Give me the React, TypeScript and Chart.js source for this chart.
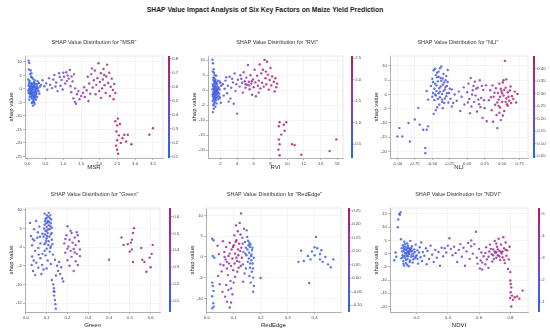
import React, { useEffect, useRef } from "react";
import { Chart, registerables } from "chart.js";

Chart.register(...registerables);
Chart.defaults.font.family = "'Liberation Sans', Arial, sans-serif";

type Pt = [number, number, number]; // [feature value, shap value, interaction (colour) value]

const MAIN_TITLE = "SHAP Value Impact Analysis of Six Key Factors on Maize Yield Prediction";

// ---------------- MSR ----------------
const msrPoints: Pt[] = [
  [0.03,10.5,0.15],[0.05,9.6,0.15],[0.04,7.2,0.14],[0.09,6.8,0.16],[0.07,5.5,0.15],[0.12,4.2,0.17],[0.02,3.5,0.13],[0.15,3.8,0.18],[0.05,2.6,0.14],[0.1,2.1,0.16],
  [0.18,2.5,0.18],[0.22,1.8,0.2],[0.03,1.2,0.13],[0.08,1.0,0.15],[0.13,0.8,0.17],[0.17,1.3,0.18],[0.21,0.6,0.2],[0.26,1.1,0.21],[0.3,0.4,0.22],[0.05,0.2,0.14],
  [0.1,-0.1,0.16],[0.14,0.3,0.17],[0.19,-0.2,0.19],[0.24,0.0,0.2],[0.28,-0.5,0.21],[0.02,-0.6,0.13],[0.07,-0.9,0.15],[0.12,-0.7,0.16],[0.16,-1.2,0.18],[0.21,-1.0,0.19],
  [0.25,-1.5,0.2],[0.09,-1.8,0.15],[0.13,-2.3,0.17],[0.18,-2.0,0.18],[0.22,-2.6,0.19],[0.06,-2.9,0.14],[0.11,-3.4,0.16],[0.15,-3.8,0.17],[0.2,-3.2,0.19],[0.17,-4.5,0.18],
  [0.12,-5.2,0.16],[0.2,-5.6,0.19],[0.15,-6.2,0.17],[0.23,-4.0,0.2],[0.27,-3.0,0.21],[0.33,-1.8,0.22],[0.35,0.9,0.23],[0.32,2.2,0.22],[0.38,1.5,0.24],[0.28,2.9,0.21],
  [0.04,1.8,0.14],[0.06,-0.3,0.14],[0.08,0.5,0.15],[0.11,1.5,0.16],[0.14,-0.4,0.17],[0.16,0.6,0.18],[0.19,1.0,0.19],[0.23,-0.8,0.2],[0.26,0.3,0.21],[0.09,-1.2,0.15],
  [0.12,-1.6,0.16],[0.17,-2.6,0.18],[0.2,-1.4,0.19],[0.24,-2.1,0.2],[0.03,-1.5,0.13],[0.07,-2.0,0.15],[0.1,-2.8,0.16],[0.14,-4.8,0.17],[0.18,-5.0,0.18],[0.13,1.9,0.17],
  [0.06,3.0,0.14],[0.1,4.6,0.16],[0.2,3.2,0.19],[0.27,1.9,0.21],[0.31,-0.9,0.22],[0.16,-3.0,0.18],[0.22,-3.6,0.19],[0.05,-4.0,0.14],[0.11,5.8,0.16],[0.19,2.0,0.19],
  [0.42,3.2,0.26],[0.47,1.0,0.27],[0.52,2.0,0.28],[0.55,-0.3,0.29],[0.6,4.0,0.3],[0.63,1.5,0.31],[0.68,0.3,0.32],[0.72,3.5,0.33],[0.75,5.2,0.34],[0.8,2.4,0.35],
  [0.84,-0.8,0.36],[0.88,5.8,0.37],[0.92,1.2,0.38],[0.95,3.3,0.39],[0.98,-0.2,0.4],[1.02,4.5,0.41],[1.05,2.0,0.42],[1.08,6.2,0.43],[1.12,5.0,0.44],[1.15,3.8,0.45],
  [1.18,7.0,0.46],[1.2,1.0,0.46],[1.23,4.6,0.47],[1.26,2.8,0.48],[1.3,5.5,0.49],[1.33,0.2,0.5],[0.9,4.4,0.38],[1.0,6.0,0.41],[1.1,3.0,0.44],[0.78,0.9,0.34],
  [1.22,-1.2,0.47],[1.28,-3.5,0.49],[1.32,-4.8,0.5],[1.38,-2.0,0.52],[1.42,-0.8,0.53],[1.45,-3.8,0.54],[1.5,-2.6,0.55],[1.55,-1.5,0.57],[1.6,-3.0,0.58],[1.65,-0.5,0.59],
  [1.7,-4.5,0.6],[1.35,-5.5,0.51],[1.75,-1.8,0.61],[1.58,0.6,0.58],
  [1.68,4.5,0.6],[1.72,2.0,0.61],[1.78,5.5,0.62],[1.82,0.5,0.63],[1.85,3.2,0.64],[1.88,6.8,0.65],[1.92,1.5,0.66],[1.95,4.0,0.67],[1.98,9.5,0.68],[2.0,-0.8,0.68],
  [2.02,2.6,0.69],[2.05,5.8,0.7],[2.08,0.2,0.7],[2.1,3.5,0.71],[2.12,7.4,0.72],[2.15,1.4,0.72],[2.18,-1.5,0.73],[2.2,4.6,0.74],[2.22,9.0,0.74],[2.25,2.2,0.75],
  [2.28,6.0,0.76],[2.3,-2.6,0.76],[2.32,0.8,0.77],[2.35,3.8,0.77],[2.38,-0.4,0.78],[2.4,-3.8,0.78],[2.42,1.8,0.79],[2.45,-1.5,0.79],[1.9,-2.0,0.65],[2.05,-3.3,0.69],
  [1.8,7.6,0.62],[2.14,5.2,0.72],
  [2.45,-12.0,0.79],[2.5,-13.5,0.8],[2.52,-11.0,0.8],[2.48,-15.8,0.79],[2.55,-17.2,0.8],[2.5,-19.0,0.8],[2.47,-21.0,0.79],[2.5,-22.5,0.8],[2.53,-24.0,0.8],[2.58,-13.0,0.8],
  [2.6,-20.0,0.8],[2.65,-18.3,0.8],[2.7,-17.0,0.8],[2.75,-19.5,0.8],[2.8,-17.0,0.8],[2.9,-20.5,0.8],[3.4,-17.0,0.8],[3.5,-14.6,0.8],
];
const msrXTicks = [0, 0.5, 1, 1.5, 2, 2.5, 3, 3.5];
const msrYTicks = [10, 5, 0, -5, -10, -15, -20, -25];
const msrCTicks = [0.1, 0.2, 0.3, 0.4, 0.5, 0.6, 0.7, 0.8];

// ---------------- RVI ----------------
const rviPoints: Pt[] = [
  [1.05,10.2,0.45],[1.1,9.0,0.45],[1.2,7.0,0.5],[1.08,6.2,0.45],[1.3,5.0,0.55],[1.15,4.2,0.5],[1.4,3.5,0.55],[1.25,2.8,0.5],[1.55,2.5,0.6],[1.1,2.0,0.45],
  [1.35,1.6,0.55],[1.65,1.2,0.6],[1.2,1.0,0.5],[1.45,0.6,0.55],[1.8,0.8,0.65],[1.05,0.3,0.45],[1.3,0.0,0.5],[1.6,-0.2,0.6],[1.9,0.2,0.7],[1.15,-0.6,0.5],
  [1.4,-0.9,0.55],[1.7,-0.7,0.65],[1.25,-1.4,0.5],[1.5,-1.7,0.6],[1.85,-1.2,0.7],[1.1,-2.0,0.45],[1.35,-2.4,0.55],[1.65,-2.2,0.6],[1.2,-3.0,0.5],[1.45,-3.4,0.55],
  [1.75,-3.0,0.65],[1.3,-4.0,0.5],[1.55,-4.4,0.6],[1.15,-5.0,0.5],[1.4,-5.5,0.55],[1.2,-6.2,0.5],[1.1,-7.3,0.45],[2.0,2.4,0.75],[2.1,1.5,0.8],[1.95,-2.5,0.75],
  [2.05,-4.2,0.8],[1.7,3.2,0.65],[1.5,4.8,0.6],[1.9,2.9,0.7],[1.6,1.9,0.6],[1.35,3.0,0.55],
  [1.12,1.4,0.45],[1.22,0.4,0.5],[1.32,-0.4,0.52],[1.42,1.1,0.55],[1.52,0.2,0.58],[1.62,-1.2,0.6],[1.72,0.5,0.65],[1.18,-1.1,0.48],[1.28,-2.0,0.5],[1.38,-1.4,0.54],
  [1.48,-2.6,0.57],[1.58,-0.6,0.6],[1.08,-3.6,0.45],[1.24,-4.6,0.5],[1.34,2.2,0.53],[1.44,2.6,0.56],[1.14,3.4,0.47],[1.26,4.0,0.5],[1.06,-1.4,0.45],[1.18,-2.6,0.48],
  [1.5,-0.4,0.58],[1.8,-2.0,0.68],[1.36,-3.2,0.54],[1.22,5.8,0.5],
  [2.3,2.0,0.85],[2.5,0.5,0.9],[2.6,3.2,0.95],[2.8,-1.0,1.0],[2.9,1.5,1.0],[3.1,4.5,1.1],[3.2,-2.8,1.1],[3.3,0.8,1.15],[3.5,2.6,1.2],[3.6,-4.5,1.25],
  [3.7,5.6,1.3],[3.8,-0.3,1.3],[3.9,2.0,1.35],[4.0,-7.8,1.35],[3.0,-3.8,1.05],[2.7,4.3,0.95],[3.4,3.8,1.2],[2.4,-1.8,0.85],
  [4.1,3.5,1.4],[4.3,1.2,1.45],[4.4,5.0,1.5],[4.6,2.5,1.55],[4.7,-0.8,1.6],[4.8,6.0,1.6],[4.9,3.0,1.65],[5.0,0.8,1.7],[5.1,4.2,1.7],[5.2,1.8,1.75],
  [5.3,8.4,1.8],[5.4,2.8,1.8],[5.5,0.3,1.85],[5.6,5.0,1.9],[5.7,2.2,1.9],[5.8,-1.5,1.95],[5.9,3.6,2.0],[6.0,1.0,2.0],[6.1,6.8,2.05],[6.2,2.6,2.1],
  [4.5,3.8,1.5],[5.0,2.0,1.7],[5.45,1.6,1.85],[5.75,3.0,1.9],[6.25,-2.0,2.1],
  [6.4,4.8,2.1],[6.5,1.5,2.15],[6.6,3.2,2.2],[6.7,8.6,2.2],[6.8,0.6,2.25],[6.9,5.6,2.25],[7.0,2.5,2.3],[7.1,6.8,2.3],[7.2,1.2,2.35],[7.3,10.1,2.35],
  [7.4,4.0,2.4],[7.5,2.0,2.4],[7.6,9.5,2.4],[7.7,5.2,2.45],[7.8,0.2,2.45],[7.9,3.4,2.45],[8.0,7.4,2.5],[8.1,1.6,2.5],[8.2,4.6,2.5],[8.4,2.8,2.5],
  [8.5,-0.4,2.5],[8.6,4.0,2.5],[8.7,1.0,2.5],[8.8,2.2,2.5],[6.6,-0.8,2.2],[7.45,6.2,2.4],
  [9.1,-10.7,2.5],[9.0,-12.0,2.5],[9.6,-11.5,2.5],[9.7,-13.5,2.5],[9.0,-16.4,2.5],[9.1,-18.0,2.5],[8.96,-19.8,2.5],[9.1,-21.7,2.5],[9.9,-10.7,2.5],[10.6,-18.0,2.5],
  [10.9,-18.3,2.5],[11.7,-21.5,2.5],[15.1,-20.3,2.5],[15.9,-16.4,2.5],[9.3,-14.8,2.5],
];
const rviXTicks = [2, 4, 6, 8, 10, 12, 14, 16];
const rviYTicks = [10, 5, 0, -5, -10, -15, -20];
const rviCTicks = [0.5, 1.0, 1.5, 2.0, 2.5];

// ---------------- NLI ----------------
const nliPoints: Pt[] = [
  [-0.52,3.0,0.1],[-0.5,5.5,0.1],[-0.49,0.5,0.1],[-0.48,8.5,0.11],[-0.47,-2.0,0.11],[-0.46,3.8,0.1],[-0.45,6.8,0.12],[-0.44,1.2,0.11],[-0.43,-4.5,0.12],[-0.42,4.6,0.12],
  [-0.41,8.0,0.12],[-0.4,2.2,0.13],[-0.39,-1.0,0.12],[-0.38,5.8,0.13],[-0.37,9.8,0.13],[-0.36,0.2,0.13],[-0.35,3.4,0.14],[-0.34,7.2,0.14],[-0.33,-3.0,0.14],[-0.32,1.8,0.15],
  [-0.31,5.0,0.15],[-0.3,-0.6,0.15],[-0.29,3.0,0.16],[-0.28,8.6,0.16],[-0.48,-6.8,0.11],[-0.45,-5.5,0.12],[-0.4,-3.5,0.13],[-0.36,-1.8,0.14],[-0.5,-0.8,0.1],[-0.43,6.0,0.12],
  [-0.38,2.8,0.13],[-0.33,4.2,0.14],[-0.41,0.4,0.12],[-0.46,9.0,0.11],[-0.3,6.5,0.15],[-0.35,-4.8,0.14],
  [-0.49,4.4,0.1],[-0.47,2.0,0.11],[-0.45,-0.4,0.12],[-0.44,3.2,0.11],[-0.42,-1.6,0.12],[-0.41,6.2,0.12],[-0.39,1.0,0.12],[-0.37,4.8,0.13],[-0.36,-2.6,0.14],[-0.34,1.2,0.14],
  [-0.32,-1.4,0.15],[-0.31,2.6,0.15],[-0.46,0.0,0.11],[-0.43,7.6,0.12],[-0.39,9.2,0.12],[-0.35,5.6,0.14],[-0.29,0.4,0.16],[-0.27,-2.8,0.17],[-0.28,4.4,0.16],[-0.25,2.0,0.18],
  [-0.26,0.5,0.18],[-0.24,-1.5,0.19],[-0.22,1.8,0.19],[-0.2,-3.0,0.2],[-0.18,0.0,0.2],[-0.15,-2.2,0.21],[-0.12,1.0,0.21],[-0.1,-5.8,0.22],[-0.08,-0.8,0.22],[-0.05,2.5,0.23],
  [-0.04,-3.5,0.23],[-0.22,-4.2,0.19],
  [0.0,0.8,0.24],[0.02,3.8,0.25],[0.03,-1.6,0.25],[0.05,5.8,0.25],[0.06,-4.2,0.26],[0.08,1.5,0.26],[0.1,-2.6,0.27],[0.11,4.5,0.27],[0.12,-0.4,0.27],[0.14,-6.0,0.28],
  [0.15,2.4,0.28],[0.17,-3.4,0.28],[0.18,5.0,0.29],[0.2,-1.2,0.29],[0.22,-8.2,0.3],[0.23,1.6,0.3],[0.25,-4.8,0.3],[0.27,3.2,0.31],[0.28,-9.4,0.31],[0.04,-6.6,0.25],
  [0.09,3.0,0.26],[0.16,-1.8,0.28],[0.01,-2.8,0.24],[0.07,0.0,0.26],[0.13,2.0,0.27],[0.19,-4.4,0.29],[0.24,-2.0,0.3],[0.21,3.0,0.3],
  [0.31,-2.0,0.32],[0.33,1.5,0.33],[0.35,-5.5,0.34],[0.36,3.2,0.34],[0.38,-0.8,0.35],[0.4,-3.6,0.36],[0.41,2.2,0.36],[0.42,-7.2,0.37],[0.44,0.5,0.37],[0.45,-1.8,0.38],
  [0.46,3.8,0.38],[0.47,-4.6,0.38],[0.48,-9.0,0.39],[0.49,1.2,0.39],[0.5,-2.6,0.4],[0.51,4.2,0.4],[0.52,-0.4,0.4],[0.53,-5.8,0.4],[0.54,11.8,0.41],[0.55,2.4,0.41],
  [0.56,-1.4,0.41],[0.57,-3.4,0.41],[0.58,0.8,0.42],[0.6,-2.2,0.42],[0.62,2.8,0.42],[0.64,-0.6,0.42],[0.66,-1.6,0.43],[0.68,1.0,0.43],[0.7,-2.8,0.43],[0.72,0.2,0.43],
  [0.43,-11.8,0.37],[0.37,-9.6,0.35],[0.46,-6.4,0.38],[0.52,5.0,0.4],[0.48,2.0,0.39],[0.58,-4.0,0.42],[0.56,5.3,0.41],
  [0.34,-1.0,0.33],[0.39,0.6,0.35],[0.43,-2.8,0.37],[0.47,-0.8,0.39],[0.5,0.4,0.4],[0.53,1.6,0.41],[0.55,-2.6,0.41],[0.59,-0.8,0.42],[0.61,1.4,0.42],[0.63,-3.0,0.42],
  [0.45,-4.0,0.38],[0.51,-7.4,0.4],
  [-1.0,-14.7,0.2],[-0.97,-11.8,0.2],[-0.93,-14.7,0.2],[-0.82,-16.5,0.21],[-0.84,-10.0,0.2],[-0.75,-8.8,0.21],[-0.7,-4.7,0.22],[-0.68,-10.6,0.21],[-0.63,-12.4,0.2],[-0.58,-12.4,0.21],
  [-0.56,-11.2,0.2],[-0.6,-18.8,0.22],[-0.6,-20.6,0.21],[-0.58,1.2,0.15],[-0.56,-1.8,0.15],
];
const nliXTicks = [-1, -0.75, -0.5, -0.25, 0, 0.25, 0.5, 0.75];
const nliYTicks = [10, 5, 0, -5, -10, -15, -20];
const nliCTicks = [0.05, 0.1, 0.15, 0.2, 0.25, 0.3, 0.35, 0.4];

// ---------------- Green ----------------
const greenPoints: Pt[] = [
  [0.02,6.5,0.12],[0.025,3.0,0.11],[0.03,0.5,0.12],[0.03,-2.5,0.12],[0.035,-6.4,0.12],[0.04,4.8,0.13],[0.04,1.8,0.12],[0.045,-1.0,0.13],[0.05,-4.2,0.13],[0.05,7.0,0.14],
  [0.055,2.5,0.13],[0.06,-0.2,0.14],[0.06,-5.5,0.14],[0.065,5.5,0.14],[0.07,-3.0,0.15],[0.07,1.0,0.14],[0.075,-7.2,0.15],[0.08,3.6,0.15],[0.08,-1.8,0.15],[0.085,-6.0,0.15],
  [0.045,-7.5,0.13],[0.028,-4.8,0.11],[0.033,2.2,0.12],[0.038,-3.6,0.12],[0.058,4.0,0.14],[0.062,-2.0,0.14],[0.068,2.8,0.14],[0.078,-4.8,0.15],
  [0.09,9.0,0.16],[0.1,8.6,0.17],[0.11,9.2,0.17],[0.095,7.6,0.16],[0.105,7.0,0.17],[0.115,7.8,0.18],[0.12,6.4,0.18],[0.09,6.0,0.16],[0.1,5.4,0.17],[0.11,5.9,0.17],
  [0.115,4.8,0.18],[0.095,4.4,0.16],[0.105,3.8,0.17],[0.12,3.4,0.18],[0.085,2.8,0.16],[0.1,2.4,0.17],[0.11,1.6,0.17],[0.125,2.0,0.19],[0.09,0.8,0.16],[0.1,-0.4,0.17],
  [0.115,-1.2,0.18],[0.12,0.2,0.18],[0.095,-2.2,0.16],[0.105,-3.6,0.17],[0.12,-4.5,0.18],[0.1,-5.7,0.17],[0.13,-2.0,0.19],[0.125,5.2,0.19],[0.105,6.6,0.17],[0.095,1.2,0.16],
  [0.092,7.0,0.16],[0.1,7.8,0.17],[0.108,8.2,0.17],[0.118,8.6,0.18],[0.098,6.4,0.16],[0.112,6.8,0.18],[0.122,7.4,0.18],[0.088,5.0,0.16],[0.1,4.4,0.17],[0.108,4.8,0.17],
  [0.118,5.6,0.18],[0.092,3.4,0.16],[0.102,3.0,0.17],[0.113,2.8,0.17],[0.124,3.8,0.19],[0.098,1.8,0.16],[0.108,0.6,0.17],[0.118,-0.2,0.18],[0.128,0.8,0.19],[0.09,-1.0,0.16],
  [0.132,-10.0,0.2],[0.135,-11.0,0.2],[0.138,-12.0,0.2],[0.136,-13.0,0.2],[0.14,-14.2,0.21],[0.142,-15.3,0.21],[0.144,-16.5,0.21],[0.134,-11.8,0.2],
  [0.14,-3.4,0.22],[0.15,-5.0,0.23],[0.155,-6.4,0.24],[0.16,-4.0,0.24],[0.165,-7.2,0.25],[0.17,-5.4,0.25],[0.175,-8.4,0.26],[0.145,-7.6,0.23],[0.125,-8.8,0.2],[0.18,-9.2,0.26],
  [0.185,1.0,0.3],[0.19,-1.5,0.31],[0.195,3.2,0.32],[0.2,5.6,0.33],[0.2,-3.5,0.33],[0.205,0.2,0.33],[0.21,2.0,0.34],[0.21,-5.0,0.34],[0.215,-1.0,0.35],[0.22,3.8,0.35],
  [0.22,-2.6,0.35],[0.225,1.2,0.36],[0.23,-0.5,0.36],[0.23,-6.4,0.36],[0.235,2.6,0.37],[0.24,-3.8,0.37],[0.24,0.6,0.37],[0.245,-1.8,0.38],[0.25,3.2,0.38],[0.25,-4.8,0.38],
  [0.255,1.6,0.39],[0.26,-2.4,0.39],[0.19,2.2,0.31],[0.215,4.4,0.35],[0.235,-1.4,0.37],[0.2,-0.4,0.33],[0.26,-0.6,0.39],[0.245,4.0,0.38],
  [0.4,-3.4,0.45],[0.46,2.6,0.5],[0.47,0.6,0.5],[0.49,0.8,0.52],[0.505,1.2,0.53],[0.51,-0.6,0.53],[0.51,2.0,0.54],[0.515,3.8,0.54],[0.52,5.1,0.55],[0.515,-4.0,0.54],
  [0.555,-0.2,0.56],[0.56,-3.4,0.57],[0.57,-4.0,0.57],[0.58,-6.6,0.58],[0.595,-2.8,0.59],[0.6,-5.4,0.59],[0.605,-1.8,0.6],[0.61,0.6,0.6],[0.5,-1.2,0.52],
];
const greenXTicks = [0, 0.1, 0.2, 0.3, 0.4, 0.5, 0.6];
const greenYTicks = [10, 5, 0, -5, -10, -15];
const greenCTicks = [0.1, 0.2, 0.3, 0.4, 0.5, 0.6];

// ---------------- RedEdge ----------------
const redEdgePoints: Pt[] = [
  [0.02,4.4,-0.05],[0.025,4.0,-0.06],[0.022,0.2,-0.08],[0.028,-0.2,-0.07],[0.02,-6.2,-0.1],[0.022,-7.0,-0.1],[0.025,-8.2,-0.09],[0.02,-9.5,-0.1],[0.024,-11.2,-0.1],[0.02,-12.4,-0.11],
  [0.026,-12.0,-0.1],
  [0.04,2.7,0.1],[0.045,0.7,0.08],[0.05,-1.8,0.12],[0.055,-3.5,0.06],[0.048,-6.6,0.04],[0.058,-8.4,0.05],[0.06,3.8,0.14],[0.042,-4.6,0.02],
  [0.065,1.2,0.12],[0.07,-0.6,0.15],[0.072,2.4,0.18],[0.075,-2.8,0.1],[0.078,-4.4,0.13],[0.08,0.2,0.2],[0.082,-1.6,0.16],[0.085,3.4,0.22],[0.088,-5.8,0.08],[0.09,-7.6,0.1],
  [0.092,1.8,0.2],[0.095,-0.4,0.17],[0.098,-3.2,0.14],[0.068,-9.6,0.06],[0.075,-10.8,0.04],[0.085,-12.2,0.08],[0.09,-11.0,0.06],[0.072,-6.8,0.12],[0.095,-9.0,0.05],[0.08,-8.0,-0.02],
  [0.1,-6.2,0.1],[0.062,-2.0,0.14],
  [0.1,2.8,0.24],[0.102,5.2,0.23],[0.105,0.8,0.22],[0.108,7.6,0.2],[0.11,4.0,0.25],[0.112,-1.0,0.2],[0.115,6.2,0.22],[0.116,1.8,0.25],[0.118,-2.6,0.18],[0.12,3.2,0.24],
  [0.105,-4.8,0.15],[0.113,-3.6,0.12],
  [0.122,8.2,0.16],[0.125,5.4,0.2],[0.127,10.5,0.12],[0.128,2.2,0.18],[0.13,-0.2,0.22],[0.132,4.6,0.1],[0.134,-1.8,0.14],[0.136,1.2,0.05],[0.138,6.8,0.08],[0.14,-4.0,0.02],
  [0.135,-6.0,0.08],[0.126,-2.2,0.2],
  [0.085,0.8,0.18],[0.09,-2.2,0.15],[0.097,2.4,0.2],[0.103,-1.6,0.18],[0.107,3.6,0.22],[0.11,-0.2,0.2],[0.117,0.4,0.18],[0.121,-1.2,0.16],[0.124,1.4,0.14],[0.133,3.2,0.12],
  [0.074,-1.2,0.12],[0.066,0.0,0.1],
  [0.142,3.6,-0.02],[0.145,2.2,-0.05],[0.147,0.4,-0.06],[0.15,4.8,-0.04],[0.152,-1.2,-0.07],[0.155,2.8,-0.08],[0.157,1.0,-0.08],[0.16,-2.6,-0.06],[0.162,3.0,-0.09],[0.164,0.2,-0.09],
  [0.165,-0.8,-0.08],[0.167,-3.6,-0.07],[0.168,1.6,-0.08],[0.17,-1.6,-0.09],[0.172,-5.0,-0.07],[0.174,-0.2,-0.08],[0.175,-7.0,-0.06],[0.172,-8.4,-0.07],[0.148,6.4,-0.03],[0.158,-4.6,-0.07],
  [0.163,-6.2,-0.08],[0.153,3.9,-0.1],[0.16,2.4,-0.11],[0.145,-2.8,-0.05],
  [0.143,0.8,-0.04],[0.151,1.8,-0.06],[0.156,-0.4,-0.07],[0.161,-1.6,-0.08],[0.166,0.6,-0.09],[0.169,2.2,-0.08],[0.171,-2.8,-0.09],[0.158,3.4,-0.1],
  [0.2,-5.1,-0.02],
  [0.34,-1.2,-0.08],[0.35,1.5,-0.09],[0.36,-1.0,-0.08],[0.375,0.2,-0.1],[0.38,-6.3,-0.08],[0.385,-0.6,-0.09],[0.39,1.3,-0.1],[0.4,2.3,-0.09],[0.4,0.4,-0.08],[0.405,4.8,-0.07],
  [0.41,2.1,-0.1],[0.42,0.7,-0.09],[0.42,-0.6,-0.08],[0.425,1.6,-0.09],[0.43,-1.2,-0.1],[0.44,0.0,-0.08],[0.45,-1.8,-0.09],[0.46,-2.5,-0.08],[0.47,-0.6,-0.09],
];
const redEdgeXTicks = [0, 0.1, 0.2, 0.3, 0.4];
const redEdgeYTicks = [10, 5, 0, -5, -10];
const redEdgeCTicks = [-0.1, -0.05, 0, 0.05, 0.1, 0.15, 0.2, 0.25];

// ---------------- NDVI ----------------
const ndviPoints: Pt[] = [
  [0.083,12.9,1.0],[0.089,15.0,1.0],[0.098,15.7,1.0],[0.094,14.7,1.0],[0.08,10.0,1.0],
  [0.057,-2.5,0.9],[0.066,0.4,0.9],[0.07,-1.2,0.9],
  [0.1,5.4,1.0],[0.105,2.0,1.05],[0.11,-0.6,1.05],[0.112,3.2,1.05],[0.115,-2.8,1.1],[0.118,1.0,1.1],[0.12,-4.5,1.1],[0.122,4.5,1.1],[0.125,0.2,1.15],[0.128,-1.6,1.15],
  [0.13,2.6,1.15],[0.132,-3.6,1.2],[0.135,1.4,1.2],[0.138,-0.8,1.2],[0.14,3.8,1.2],[0.142,-2.0,1.25],[0.145,0.6,1.25],[0.148,2.2,1.25],[0.15,-4.8,1.3],[0.152,-0.2,1.3],
  [0.155,1.8,1.3],[0.158,-2.6,1.3],[0.16,4.8,1.35],[0.163,0.8,1.35],[0.166,-1.2,1.35],[0.17,2.8,1.4],[0.175,-3.4,1.4],[0.18,0.0,1.45],[0.185,1.6,1.45],[0.19,-1.8,1.5],
  [0.195,3.4,1.5],[0.2,-0.6,1.5],[0.205,1.2,1.55],[0.21,-3.8,1.55],[0.215,0.4,1.6],[0.22,2.4,1.6],[0.225,-1.4,1.6],[0.23,4.2,1.65],[0.235,-2.8,1.65],[0.24,0.6,1.7],
  [0.25,-0.8,1.7],[0.26,2.0,1.75],[0.265,-4.0,1.75],[0.27,1.0,1.8],[0.28,-2.0,1.8],[0.29,3.0,1.85],[0.3,-0.4,1.9],[0.31,-3.2,1.9],[0.32,1.4,1.95],[0.33,-1.6,2.0],
  [0.34,0.6,2.0],[0.35,-4.6,2.05],[0.36,2.2,2.05],[0.12,1.8,1.1],[0.135,-0.2,1.2],[0.15,1.0,1.3],[0.165,2.0,1.35],[0.18,-1.0,1.45],[0.145,3.0,1.25],
  [0.108,0.8,1.05],[0.113,-1.4,1.05],[0.118,2.6,1.1],[0.123,-0.8,1.1],[0.127,1.6,1.15],[0.133,-2.4,1.2],[0.137,0.4,1.2],[0.141,2.0,1.2],[0.146,-1.0,1.25],[0.151,0.2,1.3],
  [0.156,-3.2,1.3],[0.161,1.4,1.35],[0.168,-0.4,1.4],[0.172,1.0,1.4],[0.178,-2.2,1.45],[0.188,0.6,1.45],[0.196,-1.2,1.5],[0.206,-2.0,1.55],[0.116,-3.8,1.1],[0.126,3.6,1.15],
  [0.102,-1.8,1.0],[0.14,-4.2,1.2],
  [0.37,-1.0,2.1],[0.38,2.0,2.15],[0.39,0.4,2.2],[0.4,3.0,2.2],[0.41,5.8,2.3],[0.42,1.8,2.3],[0.43,-0.6,2.4],[0.44,2.6,2.4],[0.45,0.2,2.5],[0.46,-3.2,2.5],
  [0.47,1.4,2.6],[0.48,3.6,2.6],[0.49,-1.2,2.7],[0.5,2.2,2.7],[0.51,-4.6,2.8],[0.52,0.8,2.8],[0.53,4.0,2.9],[0.54,-2.0,2.9],[0.55,2.8,3.0],[0.56,0.0,3.0],
  [0.57,3.6,3.1],[0.55,5.0,3.0],
  [0.58,8.25,3.2],[0.585,-1.6,3.2],[0.59,-3.8,3.3],[0.6,1.8,3.3],[0.605,-5.6,3.35],[0.61,-2.6,3.4],[0.615,0.4,3.4],[0.62,-6.0,3.45],[0.63,-1.0,3.5],[0.64,-4.0,3.55],
  [0.645,2.4,3.6],[0.65,-2.2,3.6],[0.66,-5.4,3.7],[0.665,0.8,3.7],[0.67,3.4,3.75],[0.68,-0.2,3.8],[0.685,-3.0,3.85],[0.69,1.6,3.9],[0.7,4.8,3.95],[0.705,0.2,4.0],
  [0.71,-1.6,4.0],[0.715,2.6,4.1],[0.72,-0.6,4.1],[0.725,5.6,4.2],[0.73,1.0,4.2],[0.735,-2.4,4.25],[0.74,3.4,4.3],[0.745,0.0,4.35],[0.75,-1.4,4.4],[0.755,6.2,4.4],
  [0.76,2.0,4.5],[0.765,-3.6,4.5],[0.77,4.2,4.6],[0.775,-0.8,4.6],[0.78,1.2,4.7],[0.785,-5.8,4.7],[0.79,-2.2,4.8],[0.795,2.6,4.8],[0.8,-7.0,4.9],[0.7,0.8,3.95],
  [0.72,1.6,4.1],[0.69,-0.6,3.9],[0.74,0.6,4.3],[0.71,3.8,4.05],
  [0.66,-1.2,3.7],[0.675,1.8,3.75],[0.695,-2.0,3.9],[0.71,0.6,4.0],[0.73,-1.0,4.2],[0.75,0.8,4.4],[0.76,-2.4,4.5],[0.77,1.4,4.6],[0.62,-3.4,3.45],[0.64,0.2,3.55],
  [0.8,-10.2,4.9],[0.802,-11.5,4.9],[0.806,-12.8,5.0],[0.802,-14.6,5.0],[0.81,-15.9,5.0],[0.798,-16.8,4.9],[0.817,-17.5,5.0],[0.806,-20.0,5.0],[0.827,-16.5,5.0],[0.843,-16.2,5.1],
  [0.858,-17.1,5.1],[0.879,-14.0,5.1],
];
const ndviXTicks = [0.2, 0.4, 0.6, 0.8];
const ndviYTicks = [15, 10, 5, 0, -5, -10, -15, -20];
const ndviCTicks = [1, 2, 3, 4, 5];

// ---------------- colour map (blue -> violet -> magenta) ----------------
const COLOR_STOPS: number[][] = [
  [35, 105, 240],
  [125, 65, 200],
  [185, 25, 105],
];

function cmap(t: number, a = 1): string {
  const tt = Math.max(0, Math.min(1, t));
  const s = tt * (COLOR_STOPS.length - 1);
  const i = Math.min(Math.floor(s), COLOR_STOPS.length - 2);
  const f = s - i;
  const c = COLOR_STOPS[i].map((v, k) => Math.round(v + (COLOR_STOPS[i + 1][k] - v) * f));
  return `rgba(${c[0]},${c[1]},${c[2]},${a})`;
}

interface Panel {
  name: string;
  points: Pt[];
  xTicks: number[];
  yTicks: number[];
  cTicks: number[];
  xDec: number;
  cDec: number;
  xRange: [number, number];
  yRange: [number, number];
  cRange: [number, number];
  L: number; R: number; T: number; B: number; CB: number; TY: number; XY: number;
}

const ROW1 = { T: 56, B: 158, TY: 42, XY: 167 };
const ROW2 = { T: 208, B: 312, TY: 194, XY: 325 };

const PANELS: Panel[] = [
  { name: "MSR", points: msrPoints, xTicks: msrXTicks, yTicks: msrYTicks, cTicks: msrCTicks, xDec: 1, cDec: 1,
    xRange: [-0.07, 3.78], yRange: [-25.6, 12.2], cRange: [0.09, 0.82], L: 25, R: 163, CB: 169, ...ROW1 },
  { name: "RVI", points: rviPoints, xTicks: rviXTicks, yTicks: rviYTicks, cTicks: rviCTicks, xDec: 0, cDec: 1,
    xRange: [0.51, 16.7], yRange: [-22.6, 11.4], cRange: [0.18, 2.55], L: 208, R: 343, CB: 352, ...ROW1 },
  { name: "NLI", points: nliPoints, xTicks: nliXTicks, yTicks: nliYTicks, cTicks: nliCTicks, xDec: 2, cDec: 2,
    xRange: [-1.105, 0.87], yRange: [-22.3, 13.5], cRange: [0.043, 0.45], L: 390, R: 528, CB: 534, ...ROW1 },
  { name: "Green", points: greenPoints, xTicks: greenXTicks, yTicks: greenYTicks, cTicks: greenCTicks, xDec: 1, cDec: 1,
    xRange: [-0.004, 0.645], yRange: [-17.4, 10.5], cRange: [0.035, 0.65], L: 25, R: 160, CB: 170, ...ROW2 },
  { name: "RedEdge", points: redEdgePoints, xTicks: redEdgeXTicks, yTicks: redEdgeYTicks, cTicks: redEdgeCTicks, xDec: 1, cDec: 2,
    xRange: [-0.003, 0.498], yRange: [-13.3, 11.8], cRange: [-0.125, 0.26], L: 206, R: 341, CB: 349, ...ROW2 },
  { name: "NDVI", points: ndviPoints, xTicks: ndviXTicks, yTicks: ndviYTicks, cTicks: ndviCTicks, xDec: 1, cDec: 0,
    xRange: [0.03, 0.913], yRange: [-22.1, 17.25], cRange: [0.55, 5.27], L: 390, R: 528, CB: 539, ...ROW2 },
];

const TICK_SIZE = 4.3;
const TICK_FONT = { size: TICK_SIZE };
const TICK_COLOR = "#444";

function PanelChart({ p }: { p: Panel }) {
  const ref = useRef<HTMLCanvasElement>(null);
  const left = p.L - 24;
  const top = p.TY - 6;
  const right = Math.min(p.CB + 18, 550);
  const bottom = p.XY + 5;
  const w = right - left;
  const h = bottom - top;

  useEffect(() => {
    const [cmin, cmax] = p.cRange;
    const framePlugin = {
      id: "frame",
      beforeDatasetsDraw(chart: any) {
        const { ctx, chartArea: a } = chart;
        ctx.save();
        ctx.strokeStyle = "#e2e2e2";
        ctx.lineWidth = 0.8;
        ctx.beginPath();
        ctx.moveTo(a.left, a.top);
        ctx.lineTo(a.right, a.top);
        ctx.lineTo(a.right, a.bottom);
        ctx.stroke();
        ctx.restore();
      },
      afterDraw(chart: any) {
        const { ctx, chartArea: a } = chart;
        const x = p.CB - left;
        const g = ctx.createLinearGradient(0, a.bottom, 0, a.top);
        COLOR_STOPS.forEach((c, i) => g.addColorStop(i / (COLOR_STOPS.length - 1), `rgb(${c[0]},${c[1]},${c[2]})`));
        ctx.save();
        ctx.fillStyle = g;
        ctx.fillRect(x - 1, a.top, 2, a.bottom - a.top);
        const s = chart.scales.c;
        ctx.strokeStyle = "#555";
        ctx.lineWidth = 0.5;
        ctx.fillStyle = TICK_COLOR;
        ctx.font = `${TICK_SIZE}px 'Liberation Sans', Arial, sans-serif`;
        ctx.textAlign = "left";
        ctx.textBaseline = "middle";
        p.cTicks.forEach((v) => {
          const y = s.getPixelForValue(v);
          ctx.beginPath();
          ctx.moveTo(x + 1, y);
          ctx.lineTo(x + 2.5, y);
          ctx.stroke();
          ctx.fillText(v.toFixed(p.cDec), x + 3.2, y);
        });
        ctx.restore();
      },
    };

    const chart = new Chart(ref.current as HTMLCanvasElement, {
      type: "scatter",
      data: {
        datasets: [
          {
            data: p.points.map(([x, y]) => ({ x, y })),
            xAxisID: "x",
            yAxisID: "y",
            pointRadius: 1.2,
            pointHoverRadius: 1.2,
            pointBorderWidth: 0,
            pointBackgroundColor: p.points.map(([, , c]) => cmap((c - cmin) / (cmax - cmin), 0.85)),
          } as any,
        ],
      },
      options: {
        animation: false,
        responsive: false,
        maintainAspectRatio: false,
        devicePixelRatio: 1,
        events: [],
        layout: { padding: 0, autoPadding: false } as any,
        plugins: {
          legend: { display: false },
          tooltip: { enabled: false },
          title: {
            display: true,
            text: `SHAP Value Distribution for "${p.name}"`,
            font: { size: 5.5, weight: "normal", lineHeight: 1.1 },
            color: "#333",
            padding: { top: 3, bottom: p.T - top - 9.05 },
          },
        },
        scales: {
          x: {
            type: "linear",
            position: "bottom",
            min: p.xRange[0],
            max: p.xRange[1],
            afterBuildTicks: (s: any) => { s.ticks = p.xTicks.map((v) => ({ value: v })); },
            afterFit: (s: any) => { s.height = bottom - p.B; },
            ticks: {
              font: TICK_FONT, color: TICK_COLOR, padding: 1, maxRotation: 0, autoSkip: false,
              callback: (v: any) => Number(v).toFixed(p.xDec),
            },
            grid: { color: "#ececec", lineWidth: 0.6, tickColor: "#888", tickLength: 2 },
            border: { color: "#9a9a9a", width: 0.8 },
            title: { display: true, text: p.name, font: { size: 6 }, color: "#222", padding: { top: 0, bottom: 1.4 } },
          },
          y: {
            type: "linear",
            position: "left",
            min: p.yRange[0],
            max: p.yRange[1],
            afterBuildTicks: (s: any) => { s.ticks = p.yTicks.map((v) => ({ value: v })); },
            afterFit: (s: any) => { s.width = 24; },
            ticks: { font: TICK_FONT, color: TICK_COLOR, padding: 1, autoSkip: false, callback: (v: any) => String(v) },
            grid: { color: "#ececec", lineWidth: 0.6, tickColor: "#888", tickLength: 2 },
            border: { color: "#9a9a9a", width: 0.8 },
            title: { display: true, text: "shap value", font: { size: 6 }, color: "#222", padding: { top: 6.4, bottom: 0 } },
          },
          c: {
            type: "linear",
            position: "right",
            axis: "y",
            min: cmin,
            max: cmax,
            afterBuildTicks: (s: any) => { s.ticks = p.cTicks.map((v) => ({ value: v })); },
            afterFit: (s: any) => { s.width = right - p.R; },
            ticks: { display: false },
            grid: { display: false },
            border: { display: false },
          } as any,
        },
      },
      plugins: [framePlugin as any],
    } as any);
    return () => chart.destroy();
  }, []);

  return (
    <canvas
      ref={ref}
      width={w}
      height={h}
      style={{ position: "absolute", left, top, width: w, height: h }}
    />
  );
}

export default function App() {
  return (
    <div style={{ position: "absolute", left: 0, top: 0, width: 550, height: 333, background: "#fff", overflow: "hidden" }}>
      <div
        style={{
          position: "absolute",
          left: 0,
          top: 5,
          width: 530,
          textAlign: "center",
          fontFamily: "'Liberation Sans', Arial, sans-serif",
          fontWeight: "bold",
          fontSize: 8,
          lineHeight: "10px",
          color: "#222",
          whiteSpace: "nowrap",
          transform: "scaleX(0.85)",
          transformOrigin: "265px 50%",
        }}
      >
        {MAIN_TITLE}
      </div>
      {PANELS.map((p) => (
        <PanelChart key={p.name} p={p} />
      ))}
    </div>
  );
}
